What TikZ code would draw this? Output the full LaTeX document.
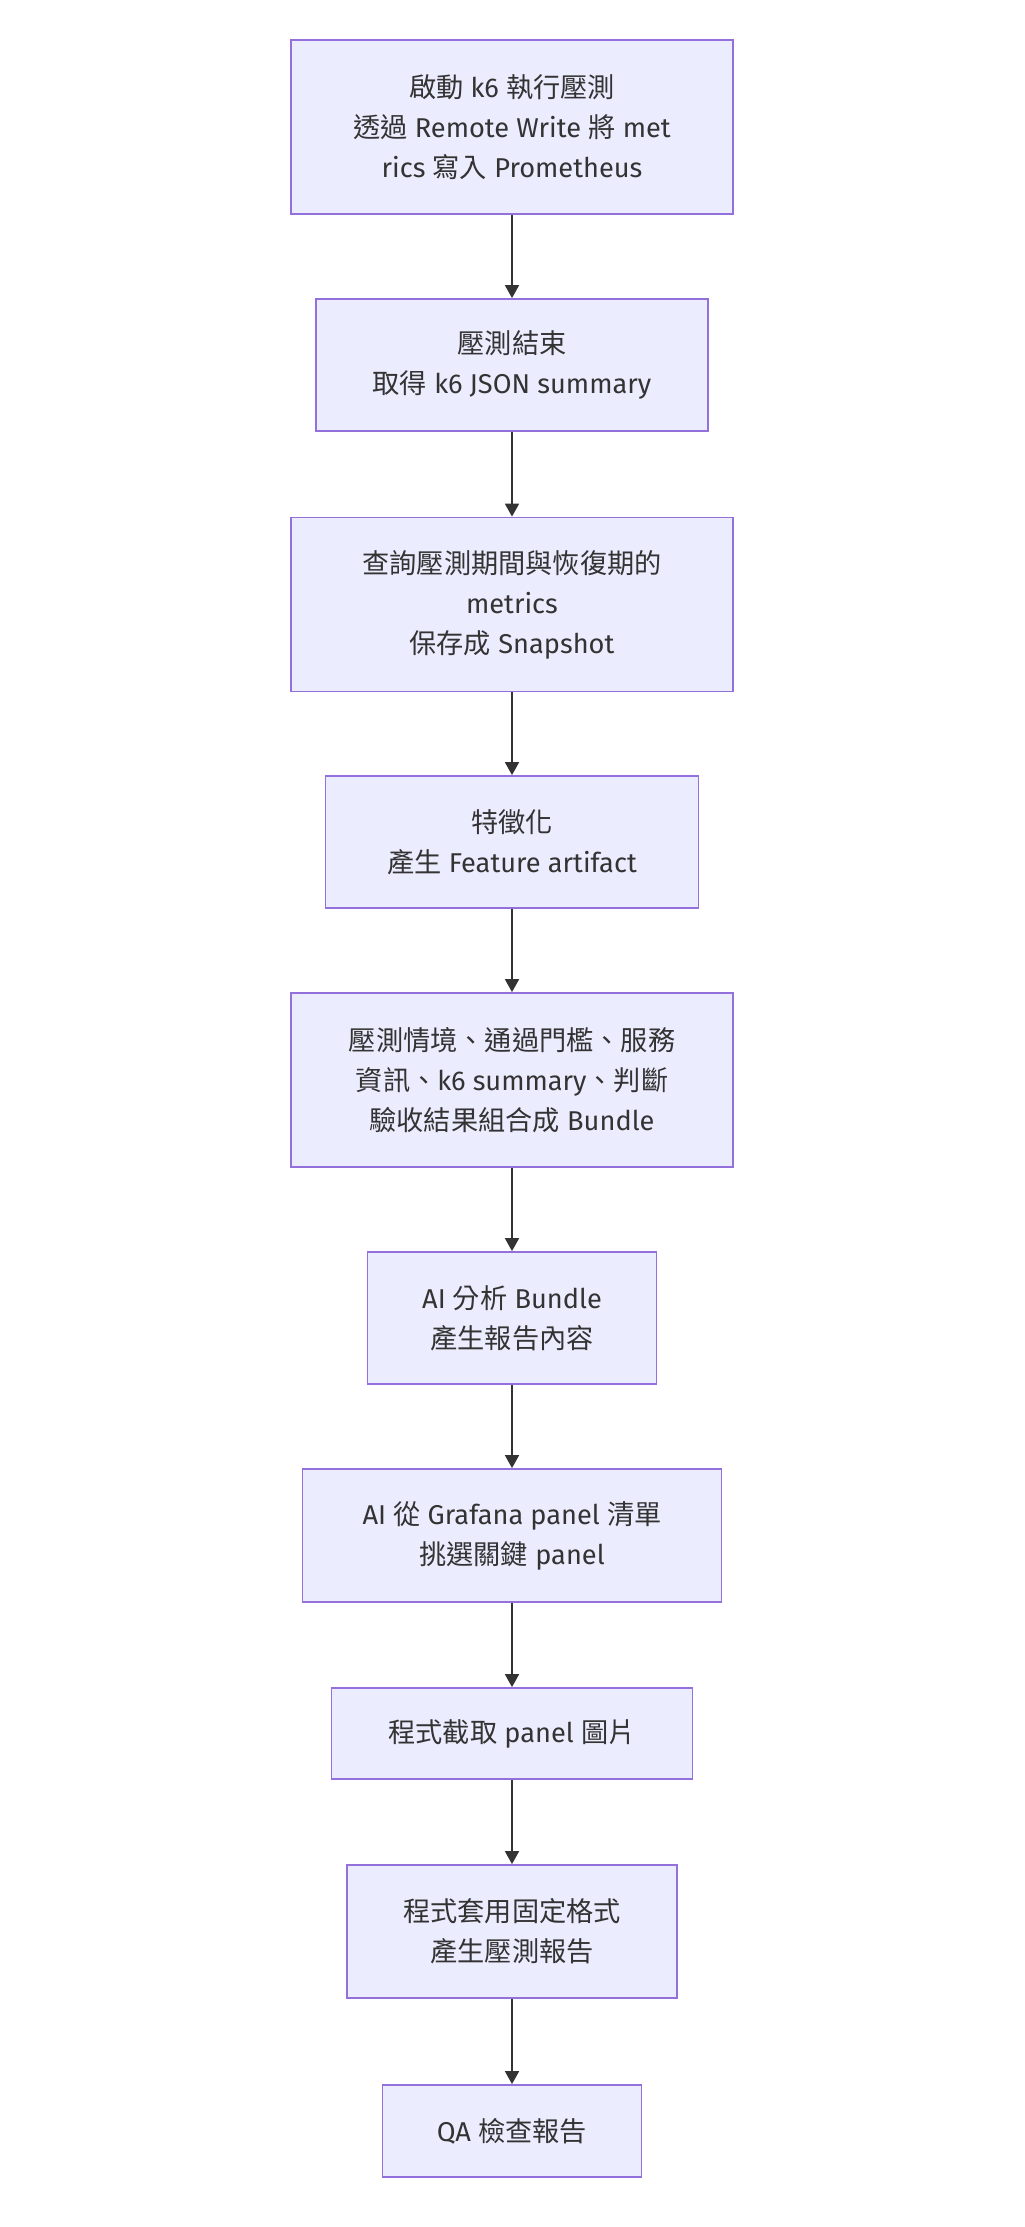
\documentclass[tikz,border=0pt]{standalone}
\usepackage{fontspec}
\setmainfont{Fira Sans}
\newfontfamily\hanzi{Noto Sans CJK TC}
\usetikzlibrary{arrows.meta}
\definecolor{boxfill}{HTML}{ECECFF}
\definecolor{boxline}{HTML}{9370DB}
\definecolor{ink}{HTML}{333333}
\tikzset{
  stepbox/.style={draw=boxline,fill=boxfill,line width=0.9pt,text=ink,align=center,
    inner sep=0pt,font=\fontsize{13.6}{20}\selectfont},
  flow/.style={draw=ink,line width=0.9pt,-{Triangle[width=7pt,length=6.5pt]}}
}
\begin{document}
\begin{tikzpicture}[x=0.5pt,y=-0.5pt]
        \useasboundingbox[fill=white](0,0)rectangle(1024,2227);
        \node[stepbox,minimum width=221pt,minimum height=87pt](run)at(512,127){{\hanzi 啟動} k6 {\hanzi 執行壓測}\\{\hanzi 透過} Remote Write {\hanzi 將} met\\rics {\hanzi 寫入} Prometheus};
        \node[stepbox,minimum width=196pt,minimum height=66pt](done)at(512,365){{\hanzi 壓測結束}\\{\hanzi 取得} k6 JSON summary};
        \node[stepbox,minimum width=221pt,minimum height=87pt](query)at(512,604.5){{\hanzi 查詢壓測期間與恢復期的}\\metrics\\{\hanzi 保存成} Snapshot};
        \node[stepbox,minimum width=186.5pt,minimum height=66pt](feat)at(512,842){{\hanzi 特徵化}\\{\hanzi 產生} Feature artifact};
        \node[stepbox,minimum width=221pt,minimum height=87pt](bundle)at(512,1080){{\hanzi 壓測情境、通過門檻、服務}\\{\hanzi 資訊、}k6 summary{\hanzi 、判斷}\\{\hanzi 驗收結果組合成} Bundle};
        \node[stepbox,minimum width=144.5pt,minimum height=66pt](ai)at(512,1318){AI {\hanzi 分析} Bundle\\{\hanzi 產生報告內容}};
        \node[stepbox,minimum width=209.5pt,minimum height=66.5pt](pick)at(512,1535.5){AI {\hanzi 從} Grafana panel {\hanzi 清單}\\{\hanzi 挑選關鍵} panel};
        \node[stepbox,minimum width=180.5pt,minimum height=45.5pt](shot)at(512,1733.5){{\hanzi 程式截取} panel {\hanzi 圖片}};
        \node[stepbox,minimum width=165pt,minimum height=66.5pt](report)at(512,1931.5){{\hanzi 程式套用固定格式}\\{\hanzi 產生壓測報告}};
        \node[stepbox,minimum width=129.5pt,minimum height=46pt](qa)at(512,2131){QA {\hanzi 檢查報告}};
        \foreach \a/\b in {run/done,done/query,query/feat,feat/bundle,bundle/ai,ai/pick,pick/shot,shot/report,report/qa}
        \draw[flow](\a)--(\b);
    \end{tikzpicture}
\end{document}
